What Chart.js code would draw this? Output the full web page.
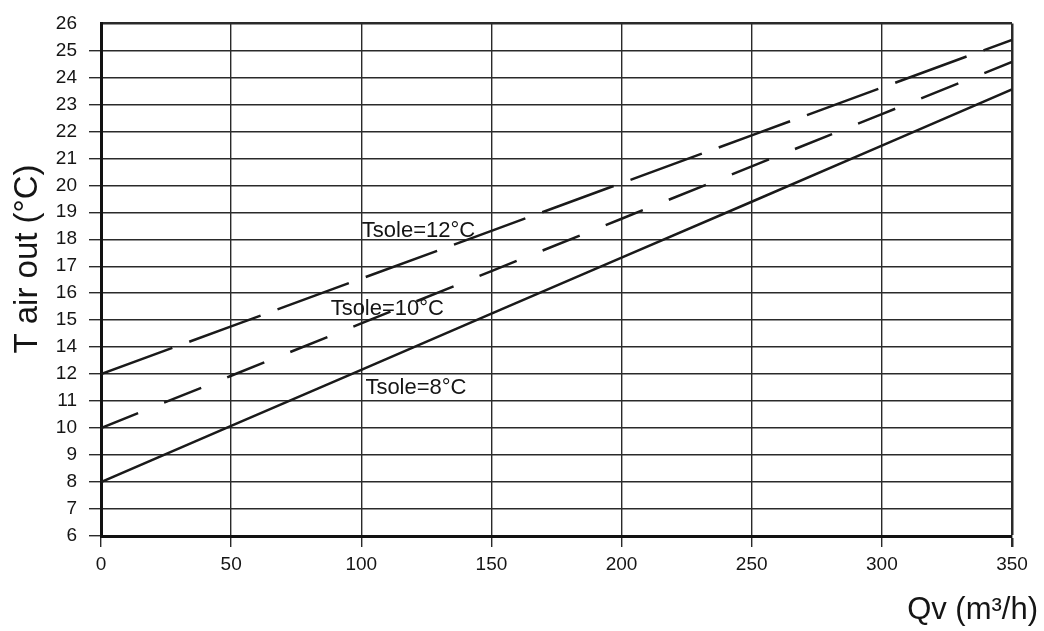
<!DOCTYPE html>
<html>
<head>
<meta charset="utf-8">
<script src="https://cdn.jsdelivr.net/npm/chart.js@4.4.1/dist/chart.umd.min.js"></script>
<style>
  html, body { margin: 0; padding: 0; background: #fff; }
  #wrap { width: 1044px; height: 631px; }
</style>
</head>
<body>
<div id="wrap"><canvas id="chart" width="1044" height="631"></canvas></div>
<script>
// flow rate, m3/h
const qv = [0, 50, 100, 150, 200, 250, 300, 350];
// outlet air temperature (as read on the printed scale)
const tsole12 = [12, 14.77, 16.54, 18.31, 20.08, 21.85, 23.62, 25.39];
const tsole10 = [10, 11.94, 14.88, 16.82, 18.76, 20.7, 22.64, 24.57];
const tsole8 = [8, 10.08, 12.32, 15.24, 17.32, 19.39, 21.47, 23.55];
// the printed axis has no 13, so the rows are labelled like this
const yTickLabels = [6, 7, 8, 9, 10, 11, 12, 14, 15, 16, 17, 18, 19, 20, 21, 22, 23, 24, 25, 26];
const curveNames = ['Tsole=12°C', 'Tsole=10°C', 'Tsole=8°C'];
// where the curve names sit (qv, temperature)
const nameX = [122, 110, 121];
const nameY = [18.3, 15.4, 11.5];

// temperature -> row on the printed axis
function toRow(v) {
    for (let i = 0; i < yTickLabels.length - 1; i++) {
        const a = yTickLabels[i], b = yTickLabels[i + 1];
        if (v >= a && v <= b) return i + (v - a) / (b - a);
    }
    return v < yTickLabels[0] ? 0 : yTickLabels.length - 1;
}

function points(ys) {
    return qv.map((x, i) => ({ x: x, y: toRow(ys[i]) }));
}

const ink = '#1a1a1a';
Chart.defaults.font.family = "'Liberation Sans', Arial, sans-serif";
Chart.defaults.color = '#151515';

const textPlugin = {
    id: 'texts',
    afterDraw(chart) {
        const ctx = chart.ctx;
        const xs = chart.scales.x, ys = chart.scales.y;
        ctx.save();
        ctx.fillStyle = '#151515';
        ctx.textBaseline = 'middle';
        ctx.textAlign = 'center';
        ctx.font = "22px 'Liberation Sans Narrow', 'Liberation Sans', Arial, sans-serif";
        curveNames.forEach((name, i) => {
            ctx.fillText(name, xs.getPixelForValue(nameX[i]), ys.getPixelForValue(toRow(nameY[i])));
        });
        // axis titles
        ctx.font = "31px 'Liberation Sans', Arial, sans-serif";
        ctx.textAlign = 'right';
        ctx.fillText('Qv (m³/h)', 1038, 610);
        ctx.translate(28, 259);
        ctx.rotate(-Math.PI / 2);
        ctx.textAlign = 'center';
        ctx.font = "33px 'Liberation Sans', Arial, sans-serif";
        ctx.fillText('T air out (°C)', 0, 0);
        ctx.restore();
    }
};

new Chart(document.getElementById('chart').getContext('2d'), {
    type: 'line',
    data: {
        datasets: [
            {
                label: curveNames[0],
                data: points(tsole12),
                borderColor: ink,
                borderWidth: 2.5,
                borderDash: [76, 18],
                pointRadius: 0
            },
            {
                label: curveNames[1],
                data: points(tsole10),
                borderColor: ink,
                borderWidth: 2.5,
                borderDash: [40, 28],
                pointRadius: 0
            },
            {
                label: curveNames[2],
                data: points(tsole8),
                borderColor: ink,
                borderWidth: 2.5,
                pointRadius: 0
            }
        ]
    },
    options: {
        responsive: false,
        animation: false,
        layout: { padding: { top: 19, right: 32, left: 0, bottom: 0 } },
        plugins: {
            legend: { display: false },
            tooltip: { enabled: false }
        },
        scales: {
            x: {
                type: 'linear',
                min: 0,
                max: 350,
                afterFit: s => { s.height = 95; },
                ticks: {
                    stepSize: 50,
                    padding: 6,
                    font: { size: 19 },
                    maxRotation: 0
                },
                grid: {
                    color: '#2a2a2a',
                    lineWidth: c => (c.tick && c.tick.value === 350 ? 2.5 : 1.4),
                    tickLength: 11
                },
                border: { color: '#111', width: 3 }
            },
            y: {
                type: 'linear',
                min: 0,
                max: yTickLabels.length - 1,
                afterFit: s => { s.width = 101; },
                ticks: {
                    stepSize: 1,
                    padding: 12,
                    font: { size: 19 },
                    callback: v => yTickLabels[v]
                },
                grid: {
                    color: '#2a2a2a',
                    lineWidth: c => (c.tick && c.tick.value === yTickLabels.length - 1 ? 2.5 : 1.4),
                    tickColor: c => (c.tick && c.tick.value === yTickLabels.length - 1 ? 'rgba(0,0,0,0)' : '#2a2a2a'),
                    tickLength: 12
                },
                border: { color: '#111', width: 3 }
            }
        }
    },
    plugins: [textPlugin]
});
</script>
</body>
</html>
